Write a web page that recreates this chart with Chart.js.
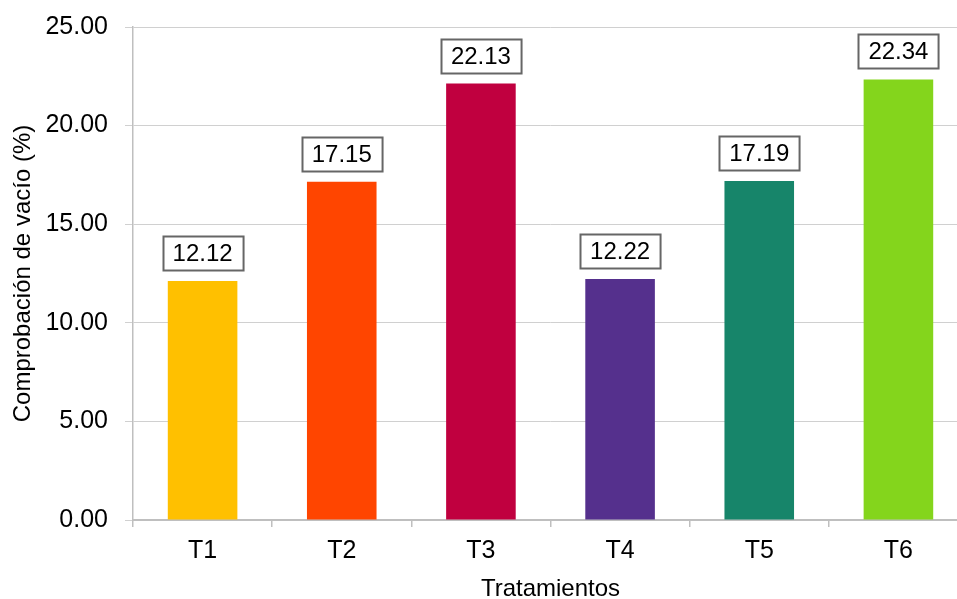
<!DOCTYPE html>
<html>
<head>
<meta charset="utf-8">
<script src="https://cdn.jsdelivr.net/npm/chart.js@4/dist/chart.umd.min.js"></script>
<style>
  html, body { margin: 0; padding: 0; background: #ffffff; overflow: hidden; }
  #wrap { width: 957px; height: 599px; overflow: hidden; position: relative; }
  #wrap canvas { position: absolute; left: 0; top: 0; }
</style>
</head>
<body>
<div id="wrap"><canvas id="chart" width="968" height="599"></canvas></div>
<script>
// Tratamientos y su comprobación de vacío (%)
const categories = ['T1', 'T2', 'T3', 'T4', 'T5', 'T6'];
const vacio = [12.12, 17.15, 22.13, 12.22, 17.19, 22.34];
const barColors = ['#FFC000', '#FF4500', '#C0003F', '#55308D', '#17856A', '#84D51C'];
const yTicks = [0, 5, 10, 15, 20, 25];

const FONT = '"Liberation Sans", Arial, sans-serif';

// Etiquetas de valor en recuadro sobre cada barra
const valueBoxes = {
  id: 'valueBoxes',
  afterDatasetsDraw(chart) {
    const ctx = chart.ctx;
    const meta = chart.getDatasetMeta(0);
    ctx.save();
    ctx.font = '24px ' + FONT;
    ctx.textAlign = 'center';
    ctx.textBaseline = 'middle';
    meta.data.forEach((bar, i) => {
      const text = vacio[i].toFixed(2);
      const w = ctx.measureText(text).width + 20;
      const h = 34;
      const bottom = bar.y - 11;
      const x0 = Math.round(bar.x - w / 2) + 0.5;
      const y0 = Math.round(bottom - h) + 0.5;
      ctx.fillStyle = '#ffffff';
      ctx.fillRect(x0, y0, w, h);
      ctx.lineWidth = 2;
      ctx.strokeStyle = '#666666';
      ctx.strokeRect(x0, y0, w, h);
      ctx.fillStyle = '#000000';
      ctx.fillText(text, bar.x, y0 + h / 2 + 1);
    });
    ctx.restore();
  }
};

new Chart(document.getElementById('chart'), {
  type: 'bar',
  data: {
    labels: categories,
    datasets: [{
      data: vacio,
      backgroundColor: barColors,
      borderWidth: 0,
      barPercentage: 0.5,
      categoryPercentage: 1.0
    }]
  },
  options: {
    responsive: false,
    animation: false,
    devicePixelRatio: 1,
    layout: { padding: { top: 27, right: 0, bottom: 0, left: 0 } },
    plugins: {
      legend: { display: false },
      tooltip: { enabled: false }
    },
    scales: {
      x: {
        offset: true,
        afterFit(scale) { scale.height = 79; },
        grid: {
          display: true,
          offset: true,
          drawOnChartArea: false,
          drawTicks: true,
          tickLength: 7,
          color: '#bfbfbf',
          lineWidth: 1.5
        },
        border: { display: true, color: '#bfbfbf', width: 2 },
        ticks: {
          color: '#000000',
          font: { family: FONT, size: 25 },
          padding: 9
        },
        title: {
          display: true,
          text: 'Tratamientos',
          color: '#000000',
          font: { family: FONT, size: 24, lineHeight: 0.8 },
          padding: { top: 0, bottom: 0 }
        }
      },
      y: {
        min: 0,
        max: 25,
        afterFit(scale) {
          scale.width = 133;
          scale.paddingTop = 0;
          scale.paddingBottom = 0;
        },
        afterBuildTicks(scale) { scale.ticks = yTicks.map(v => ({ value: v })); },
        grid: {
          color: '#d0d0d0',
          lineWidth: 1,
          drawTicks: true,
          tickLength: 8
        },
        border: { display: true, color: '#bfbfbf', width: 1.5 },
        ticks: {
          color: '#000000',
          font: { family: FONT, size: 25 },
          padding: 17,
          callback: (v) => Number(v).toFixed(2)
        },
        title: {
          display: true,
          text: 'Comprobación de vacío (%)',
          color: '#000000',
          font: { family: FONT, size: 24 },
          padding: { top: 9, bottom: 0 }
        }
      }
    }
  },
  plugins: [valueBoxes]
});
</script>
</body>
</html>
